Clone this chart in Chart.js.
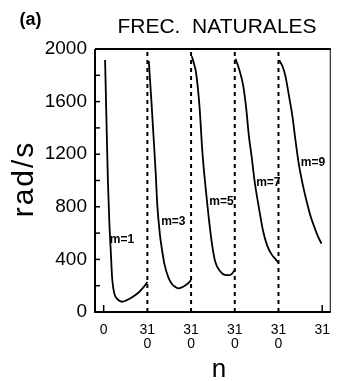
<!DOCTYPE html>
<html><head><meta charset="utf-8">
<script src="https://cdn.jsdelivr.net/npm/chart.js@4.4.1/dist/chart.umd.min.js"></script>
<style>html,body{margin:0;padding:0;background:#fff;}#wrap{width:341px;height:381px;}</style>
</head><body><div id="wrap"><canvas id="c" width="341" height="381"></canvas></div>
<script>
// ---- data ----
const segmentLength = 31;
const seriesNames = ['m=1', 'm=3', 'm=5', 'm=7', 'm=9'];
const n_m1 = [1, 2, 3, 4, 5, 6, 7, 8, 10, 13, 16, 19, 22, 25, 28, 31];
const v_m1 = [1916, 1450, 1000, 690, 470, 260, 170, 125, 95, 78, 88, 104, 125, 150, 185, 228];
const n_m3 = [1, 3, 4, 6, 7, 9, 10, 12, 15, 18, 20, 22, 24, 27, 29, 31];
const v_m3 = [1910, 1580, 1400, 1040, 820, 580, 500, 370, 260, 205, 190, 180, 185, 203, 220, 243];
const n_m5 = [0.5, 2, 3.6, 6, 8, 10.4, 12.6, 15, 17.2, 20.6, 24, 27.5, 31];
const v_m5 = [1945, 1890, 1815, 1560, 1220, 935, 710, 505, 380, 310, 282, 280, 318];
const n_m7 = [0.5, 3, 6, 8, 10, 12, 14, 17, 20, 23, 26, 29, 31];
const v_m7 = [1925, 1850, 1720, 1560, 1340, 1180, 1000, 800, 620, 505, 440, 400, 375];
const n_m9 = [0.5, 3, 5, 7.5, 10, 12, 14.5, 17, 20, 23, 26, 28, 30.5];
const v_m9 = [1915, 1865, 1790, 1640, 1480, 1310, 1120, 980, 840, 720, 630, 575, 520];
const seriesN = [n_m1, n_m3, n_m5, n_m7, n_m9];
const seriesV = [v_m1, v_m3, v_m5, v_m7, v_m9];
const boundaries = [31, 62, 93, 124];
const xTickValues = [0, 31, 62, 93, 124, 155];
const xTickLabels = [['0'], ['31', '0'], ['31', '0'], ['31', '0'], ['31', '0'], ['31']];
const yTickValues = [0, 400, 800, 1200, 1600, 2000];
const yTickLabels = ['0', '400', '800', '1200', '1600', '2000'];
const yMinorValues = [200, 600, 1000, 1400, 1800];
const titleText = 'FREC.  NATURALES';
const panelText = '(a)';
const yTitle = 'rad/s';
const xTitle = 'n';

// ---- datasets ----
const datasets = [];
seriesN.forEach((ns, i) => {
  datasets.push({
    label: seriesNames[i],
    data: ns.map((n, k) => ({ x: i * segmentLength + n, y: seriesV[i][k] })),
    borderColor: '#000', borderWidth: 1.8, pointRadius: 0,
    cubicInterpolationMode: 'monotone', fill: false
  });
});
boundaries.forEach(b => {
  datasets.push({
    label: 'sep', data: [{ x: b, y: 0 }, { x: b, y: 2000 }],
    borderColor: '#000', borderWidth: 2, borderDash: [4, 4], pointRadius: 0, fill: false
  });
});

const labelAnchors = [[13.0, 548], [49.4, 684], [83.6, 837], [116.8, 981], [148.5, 1133]];

const deco = {
  id: 'deco',
  afterDraw(chart) {
    const ctx = chart.ctx, a = chart.chartArea;
    const xs = chart.scales.x, ys = chart.scales.y;
    ctx.save();
    ctx.strokeStyle = '#000';
    // frame
    ctx.lineWidth = 2;
    ctx.beginPath();
    ctx.moveTo(a.left, a.top); ctx.lineTo(a.left, a.bottom); ctx.lineTo(a.right, a.bottom);
    ctx.moveTo(a.left, a.top); ctx.lineTo(a.right, a.top);
    ctx.stroke();
    ctx.lineWidth = 1;
    ctx.beginPath(); ctx.moveTo(a.right - 0.5, a.top); ctx.lineTo(a.right - 0.5, a.bottom); ctx.stroke();
    // inside y ticks
    ctx.lineWidth = 1.5;
    yTickValues.concat(yMinorValues).forEach(v => {
      const y = ys.getPixelForValue(v);
      ctx.beginPath(); ctx.moveTo(a.left, y); ctx.lineTo(a.left + 5, y); ctx.stroke();
    });
    // inside x ticks (ends)
    [xTickValues[0], xTickValues[xTickValues.length - 1]].forEach(v => {
      const x = xs.getPixelForValue(v);
      ctx.beginPath(); ctx.moveTo(x, a.bottom); ctx.lineTo(x, a.bottom - 7); ctx.stroke();
    });
    // series labels
    ctx.fillStyle = '#000';
    ctx.font = 'bold 12px "Liberation Sans", Arial, sans-serif';
    ctx.textAlign = 'center'; ctx.textBaseline = 'middle';
    seriesNames.forEach((s, i) => {
      ctx.fillText(s, xs.getPixelForValue(labelAnchors[i][0]), ys.getPixelForValue(labelAnchors[i][1]));
    });
    // title
    ctx.font = '21px "Liberation Sans", Arial, sans-serif';
    ctx.textBaseline = 'alphabetic';
    ctx.fillText(titleText, 217, 33);
    ctx.font = 'bold 18px "Liberation Sans", Arial, sans-serif';
    ctx.textBaseline = 'middle';
    ctx.fillText(panelText, 30.5, 20);
    // x title
    ctx.font = '26px "Liberation Sans", Arial, sans-serif';
    ctx.textBaseline = 'alphabetic';
    ctx.fillText(xTitle, 219, 377);
    // y title
    ctx.save();
    ctx.translate(33, 179);
    ctx.rotate(-Math.PI / 2);
    ctx.font = '300 30px "Liberation Sans", Arial, sans-serif';
    try { ctx.letterSpacing = '2px'; } catch (e) {}
    ctx.fillText(yTitle, 0, 0);
    ctx.restore();
    ctx.restore();
  }
};

new Chart(document.getElementById('c'), {
  type: 'line',
  data: { datasets },
  options: {
    responsive: false, animation: false, devicePixelRatio: 1,
    layout: { padding: { top: 49, left: 0, right: 1, bottom: 0 } },
    plugins: { legend: { display: false }, tooltip: { enabled: false }, title: { display: false } },
    scales: {
      x: {
        type: 'linear', min: -6.15, max: 161.1,
        grid: { display: false, drawTicks: false }, border: { display: false },
        afterBuildTicks: s => { s.ticks = xTickValues.map(v => ({ value: v })); },
        afterFit: s => { s.height = 69; },
        ticks: {
          autoSkip: false, maxRotation: 0, padding: 11, color: '#000',
          font: { family: '"Liberation Sans", Arial, sans-serif', size: 14, lineHeight: 1.0 },
          callback: (v, i) => xTickLabels[i]
        }
      },
      y: {
        type: 'linear', min: 0, max: 2000,
        grid: { display: false, drawTicks: false }, border: { display: false },
        afterBuildTicks: s => { s.ticks = yTickValues.map(v => ({ value: v })); },
        afterFit: s => { s.width = 95; },
        ticks: {
          padding: 8, color: '#000',
          font: { family: '"Liberation Sans", Arial, sans-serif', size: 19 },
          callback: (v, i) => yTickLabels[i]
        }
      }
    }
  },
  plugins: [deco]
});
</script></body></html>
